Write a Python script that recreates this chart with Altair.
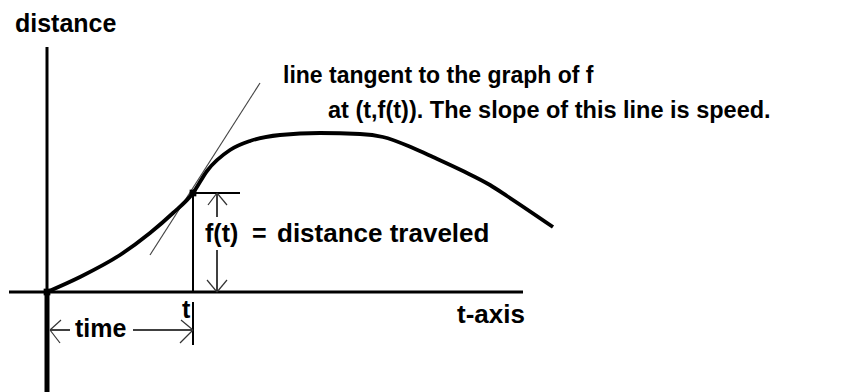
import altair as alt
import pandas as pd

# Distance travelled f(t) sampled along the time axis
curve_t = [0, 33, 73, 103, 126, 146, 160, 183, 203, 233, 273, 313, 336, 366, 386, 416, 443, 460, 506]
curve_d = [0, 15, 37, 59, 79, 99, 121, 142, 151, 157, 159, 158, 155, 144, 135, 121, 107, 96, 65]

# The instant t and the distance f(t) reached at that moment
t_mark = 146
f_mark = 99

# End points of the tangent line drawn through (t, f(t))
tangent_t = [103, 213]
tangent_d = [37, 209]

# Coordinate frame of the diagram
X_DOMAIN = [-47, 806]
Y_DOMAIN = [-100, 292]

FONT = "Liberation Sans"


def xenc(field="x"):
    return alt.X(f"{field}:Q", scale=alt.Scale(domain=X_DOMAIN, nice=False, zero=False), axis=None)


def yenc(field="y"):
    return alt.Y(f"{field}:Q", scale=alt.Scale(domain=Y_DOMAIN, nice=False, zero=False), axis=None)


def segments(rows, width, color="black"):
    df = pd.DataFrame(rows, columns=["x", "y", "x2", "y2"])
    return alt.Chart(df).mark_rule(strokeWidth=width, color=color).encode(
        x=xenc("x"), y=yenc("y"), x2="x2:Q", y2="y2:Q"
    )


def label(text, x, y, size):
    df = pd.DataFrame({"x": [x], "y": [y], "text": [text]})
    return alt.Chart(df).mark_text(
        align="left", baseline="alphabetic", font=FONT, fontWeight="bold",
        fontSize=size, color="black"
    ).encode(x=xenc("x"), y=yenc("y"), text="text:N")


# axes of the diagram
axis_upper = segments([[0, 245, 0, 0], [-38, 0, 476, 0]], 3)
axis_lower = segments([[0, 0, 0, -100]], 5)

# vertical drop from the curve, top tick and tick under the axis at t
guides = segments([
    [t_mark, 0, t_mark, f_mark],
    [t_mark, f_mark, 193, f_mark],
    [t_mark, -10, t_mark, -53],
], 2)

# shafts of the f(t) arrow and the time arrow
shafts = segments([
    [170, f_mark, 170, 75],
    [170, 42, 170, 0],
    [3, -38, 23, -38],
    [86, -38, t_mark, -38],
], 1.5)

# open arrowheads
heads = segments([
    [170, f_mark, 161, 87], [170, f_mark, 180, 87],
    [170, 0, 160, 12], [170, 0, 180, 12],
    [3, -38, 14, -28], [3, -38, 13, -51],
    [t_mark, -38, 134, -28], [t_mark, -38, 133, -51],
], 1.2, "#333")

tangent = alt.Chart(pd.DataFrame({"x": tangent_t, "y": tangent_d})).mark_line(
    strokeWidth=1.2, color="#444"
).encode(x=xenc(), y=yenc())

curve = alt.Chart(pd.DataFrame({"x": curve_t, "y": curve_d})).mark_line(
    strokeWidth=3.8, color="black", interpolate="monotone"
).encode(x=xenc(), y=yenc())

dots = alt.Chart(pd.DataFrame({"x": [0, t_mark], "y": [0, f_mark]})).mark_square(
    size=45, filled=True, color="black", opacity=1
).encode(x=xenc(), y=yenc())

texts = [
    label("distance", -32, 260, 25),
    label("line tangent to the graph of f", 236, 209, 23),
    label("at (t,f(t)). The slope of this line is speed.", 281, 174, 23.5),
    label("f(t)", 158, 50, 25),
    label("=", 205, 50, 25),
    label("distance traveled", 230, 50, 26),
    label("t-axis", 410, -31, 26),
    label("time", 28, -45, 25),
    label("t", 135, -26, 25),
]

chart = alt.layer(
    axis_upper, axis_lower, guides, shafts, heads, tangent, curve, dots, *texts
).properties(
    width=853, height=392, padding=0, autosize=alt.AutoSizeParams(type="none"),
    background="white"
).configure_view(stroke=None)

chart.save("out.html", embed_options={"renderer": "svg", "actions": False})
